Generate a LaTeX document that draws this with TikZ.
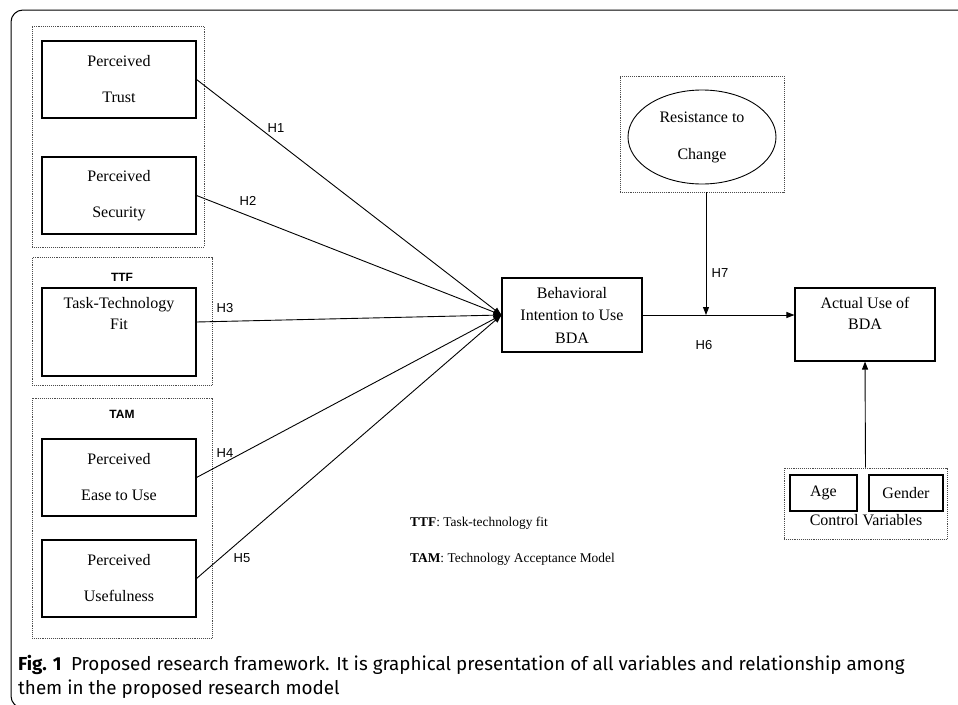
\documentclass[tikz,border=0pt]{standalone}
\usepackage{fontspec}
\setmainfont{Liberation Serif}
\newfontfamily\hfont{Liberation Sans}
\newfontfamily\capfont{Fira Sans}
\usetikzlibrary{arrows.meta,shapes.geometric}
\tikzset{
  varbox/.style={draw, line width=1.1pt, minimum width=154pt, minimum height=77pt, inner sep=0pt, align=center, font=\fontsize{16}{19}\selectfont},
  grpbox/.style={draw=black!70, densely dotted, line width=0.9pt, inner sep=0pt},
  hyp/.style={font=\hfont\fontsize{13}{15}\selectfont},
  arr/.style={line width=0.9pt, -{Triangle[length=8pt,width=6pt]}},
}
\def\varnode(#1,#2,#3,#4){
  \node[varbox] (#1) at (#2,#3) {#4};
}
\begin{document}
\begin{tikzpicture}[x=1pt,y=-1pt]
\useasboundingbox (0,0) rectangle (958,704);
\clip (0,0) rectangle (958,704);
\draw[line width=1pt, rounded corners=12pt] (975,708) -- (11,708) -- (11,10) -- (975,10);
% groups
\node[grpbox, minimum width=172pt, minimum height=221pt] (g1) at (118,136.5) {};
\node[grpbox, minimum width=180pt, minimum height=128pt] (gttf) at (122,321.5) {};
\node[grpbox, minimum width=180pt, minimum height=240pt] (gtam) at (122,518) {};
\node[font=\hfont\bfseries\fontsize{12}{14}\selectfont] (lttf) at (122,277) {TTF};
\node[font=\hfont\bfseries\fontsize{12}{14}\selectfont] (ltam) at (122,414) {TAM};
% variables
\varnode(pt,119,79.5,Perceived\\[17pt]Trust)
\varnode(ps,119,195.5,Perceived\\[17pt]Security)
\node[varbox, minimum height=88pt, text depth=37pt] (ttf) at (119,332) {Task-Technology\\[2pt]Fit};
\varnode(peou,119,477.5,Perceived\\[17pt]Ease to Use)
\varnode(pu,119,578.5,Perceived\\[17pt]Usefulness)
\node[varbox, minimum width=140pt, minimum height=74pt] (bi) at (572,315) {Behavioral\\[3.5pt]Intention to Use\\[3.5pt]BDA};
\node[varbox, minimum width=140pt, minimum height=73pt, text depth=22pt] (act) at (865,324.5) {Actual Use of\\[2pt]BDA};
% resistance
\node[grpbox, minimum width=164pt, minimum height=116pt] (grtc) at (702,134) {};
\node[draw, ellipse, line width=0.9pt, minimum width=148pt, minimum height=94pt, inner sep=0pt, align=center, font=\fontsize{16}{19}\selectfont] (rtc) at (702,137) {Resistance to\\[18pt]Change};
% controls
\node[grpbox, minimum width=163pt, minimum height=71pt] (gctrl) at (865.5,503.5) {};
\node[draw, line width=1.1pt, minimum width=67pt, minimum height=36pt, font=\fontsize{16}{19}\selectfont] (age) at (823.5,493) {Age};
\node[draw, line width=1.1pt, minimum width=74pt, minimum height=36pt, font=\fontsize{16}{19}\selectfont] (gen) at (906,493) {Gender};
\node[font=\fontsize{16}{19}\selectfont] (lctrl) at (866,520) {Control Variables};
% paths
\draw[arr] (pt.east) -- (bi.west);
\draw[arr] (ps.east) -- (bi.west);
\draw[arr] ([yshift=10pt]ttf.east) -- (bi.west);
\draw[arr] (peou.east) -- (bi.west);
\draw[arr] (pu.east) -- (bi.west);
\draw[arr] (bi.east) -- (bi.east -| act.west);
\coordinate (mod) at (706,315);
\draw[arr] (grtc.south -| mod) -- (mod);
\draw[arr] (gctrl.north) -- (act.south);
\node[hyp] (h1) at (276,128) {H1};
\node[hyp] (h2) at (248,201) {H2};
\node[hyp] (h3) at (225,308) {H3};
\node[hyp] (h4) at (225,453) {H4};
\node[hyp] (h5) at (242,558) {H5};
\node[hyp] (h6) at (704,345) {H6};
\node[hyp] (h7) at (720,273) {H7};
% legend
\node[anchor=west, inner sep=0pt, font=\fontsize{13.4}{16}\selectfont] (kttf) at (410,523) {\textbf{TTF}: Task-technology fit};
\node[anchor=west, inner sep=0pt, font=\fontsize{13.4}{16}\selectfont] (ktam) at (410,559) {\textbf{TAM}: Technology Acceptance Model};
% caption
\node[anchor=north west, inner sep=0pt, align=left, font=\capfont\fontsize{18.8}{24}\selectfont] (cap) at (18,655) {\textbf{Fig. 1}\enspace Proposed research framework. It is graphical presentation of all variables and relationship among\\them in the proposed research model};
\end{tikzpicture}
\end{document}
